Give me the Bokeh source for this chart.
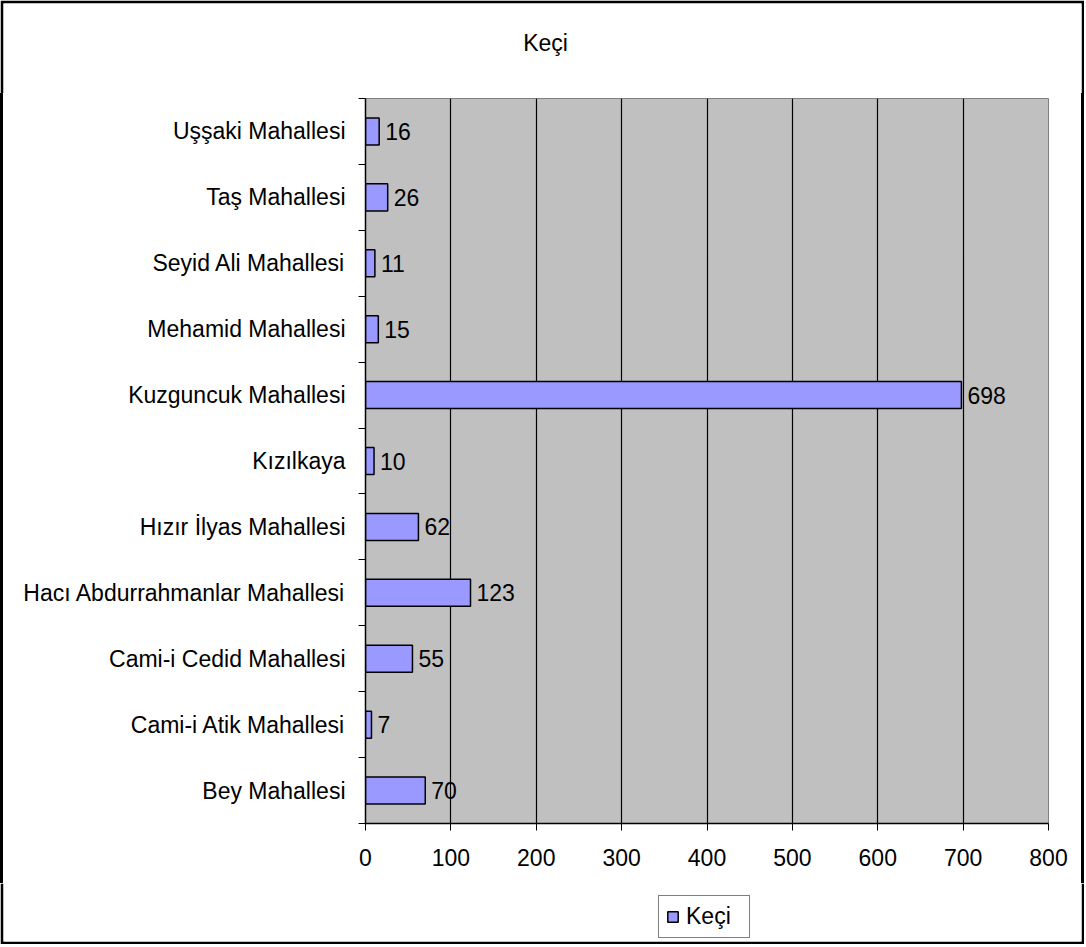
from bokeh.plotting import figure
from bokeh.models import ColumnDataSource, FixedTicker, Range1d, Label, Div
from bokeh.layouts import column, row
from bokeh.core.properties import value
from bokeh.embed import file_html
from bokeh.resources import INLINE

categories = ["Bey Mahallesi", "Cami-i Atik Mahallesi", "Cami-i Cedid Mahallesi",
              "Hacı Abdurrahmanlar Mahallesi", "Hızır İlyas Mahallesi", "Kızılkaya",
              "Kuzguncuk Mahallesi", "Mehamid Mahallesi", "Seyid Ali Mahallesi",
              "Taş Mahallesi", "Uşşaki Mahallesi"]
keci = [70, 7, 55, 123, 62, 10, 698, 15, 11, 26, 16]
x_ticks = [0, 100, 200, 300, 400, 500, 600, 700, 800]
series_name = "Keçi"
chart_title = "Keçi"

FONT = "Liberation Sans"
FS = "23px"
BAR_FILL = "#9999FF"
B = 3                      # outer border thickness
INNER_W = 1078
TOP_H, MID_H, BOT_H = 90, 790, 58


def bare(w, h, **kw):
    f = figure(width=w, height=h, output_backend="svg", toolbar_location=None,
               title=None, x_axis_type=None, y_axis_type=None, **kw)
    f.grid.visible = False
    f.outline_line_color = None
    return f


# ---- top strip: title + border
p0 = bare(INNER_W + 2 * B, TOP_H + B, x_range=Range1d(0, INNER_W), y_range=Range1d(0, TOP_H),
          min_border_left=B, min_border_right=B, min_border_top=B, min_border_bottom=0)
p0.border_fill_color = "black"
p0.background_fill_color = "white"
p0.add_layout(Label(x=542, y=51, text=chart_title, text_align="center", text_baseline="middle",
                    text_font=FONT, text_font_size=FS, text_color="black"))

# ---- main chart
pos = list(range(len(categories)))
src = ColumnDataSource(dict(y=pos, v=keci, lab=[str(k) for k in keci]))

p = figure(width=INNER_W, height=MID_H, output_backend="svg", toolbar_location=None, title=None,
           x_range=Range1d(0, 800), y_range=Range1d(-0.5, len(categories) - 0.5),
           min_border_left=362, min_border_right=33, min_border_top=5,
           min_border_bottom=60)
p.background_fill_color = "#C0C0C0"
p.border_fill_color = "white"
p.outline_line_color = "#808080"
p.outline_line_width = 1

p.hbar(y="y", right="v", left=0, height=0.41, source=src, fill_color=BAR_FILL,
       line_color="black", line_width=1.5)
p.text(x="v", y="y", text="lab", source=src, x_offset=6, text_baseline="middle",
       text_align="left", text_font=value(FONT), text_font_size=FS, text_color="black")

p.xaxis.ticker = FixedTicker(ticks=x_ticks)
p.xaxis.major_tick_out = 7
p.xaxis.major_tick_in = 0
p.xaxis.minor_tick_line_color = None
p.xaxis.axis_line_color = "black"
p.xaxis.axis_line_width = 1.5
p.xaxis.major_tick_line_color = "black"
p.xaxis.major_label_text_font = FONT
p.xaxis.major_label_text_font_size = FS
p.xaxis.major_label_text_color = "black"
p.xaxis.major_label_standoff = 18

p.yaxis.ticker = FixedTicker(ticks=pos, minor_ticks=[i - 0.5 for i in range(len(categories) + 1)])
p.yaxis.major_label_overrides = {i: c for i, c in enumerate(categories)}
p.yaxis.major_tick_line_color = None
p.yaxis.major_tick_out = 0
p.yaxis.major_tick_in = 0
p.yaxis.minor_tick_line_color = "black"
p.yaxis.minor_tick_out = 7
p.yaxis.minor_tick_in = 0
p.yaxis.axis_line_color = "black"
p.yaxis.axis_line_width = 1.5
p.yaxis.major_label_text_font = FONT
p.yaxis.major_label_text_font_size = FS
p.yaxis.major_label_text_color = "black"
p.yaxis.major_label_standoff = 13

p.xgrid.ticker = FixedTicker(ticks=x_ticks)
p.xgrid.grid_line_color = "black"
p.xgrid.grid_line_width = 1.2
p.ygrid.grid_line_color = None

lb = Div(text="", width=B, height=MID_H, margin=0, styles={"background-color": "black"})
rb = Div(text="", width=B, height=MID_H, margin=0, styles={"background-color": "black"})

# ---- bottom strip: legend + border
p2 = bare(INNER_W + 2 * B, BOT_H + B, x_range=Range1d(0, 1), y_range=Range1d(0, 1),
          min_border_left=B, min_border_right=B, min_border_top=0, min_border_bottom=B)
p2.border_fill_color = "black"
p2.background_fill_color = "white"
p2.hbar(y=[float("nan")], right=[float("nan")], height=0.5, fill_color=BAR_FILL,
        line_color="black", line_width=1.5, legend_label=series_name)
leg = p2.legend[0]
leg.location = (655, 3)
leg.border_line_color = "black"
leg.border_line_width = 1
leg.padding = 7
leg.margin = 0
leg.glyph_width = 13
leg.glyph_height = 13
leg.label_standoff = 7
leg.label_width = 56
leg.label_text_font = FONT
leg.label_text_font_size = FS
leg.label_text_color = "black"
leg.spacing = 0

layout = column(p0, row(lb, p, rb, spacing=0), p2, spacing=0)

open("out.html", "w").write(file_html(layout, INLINE))
